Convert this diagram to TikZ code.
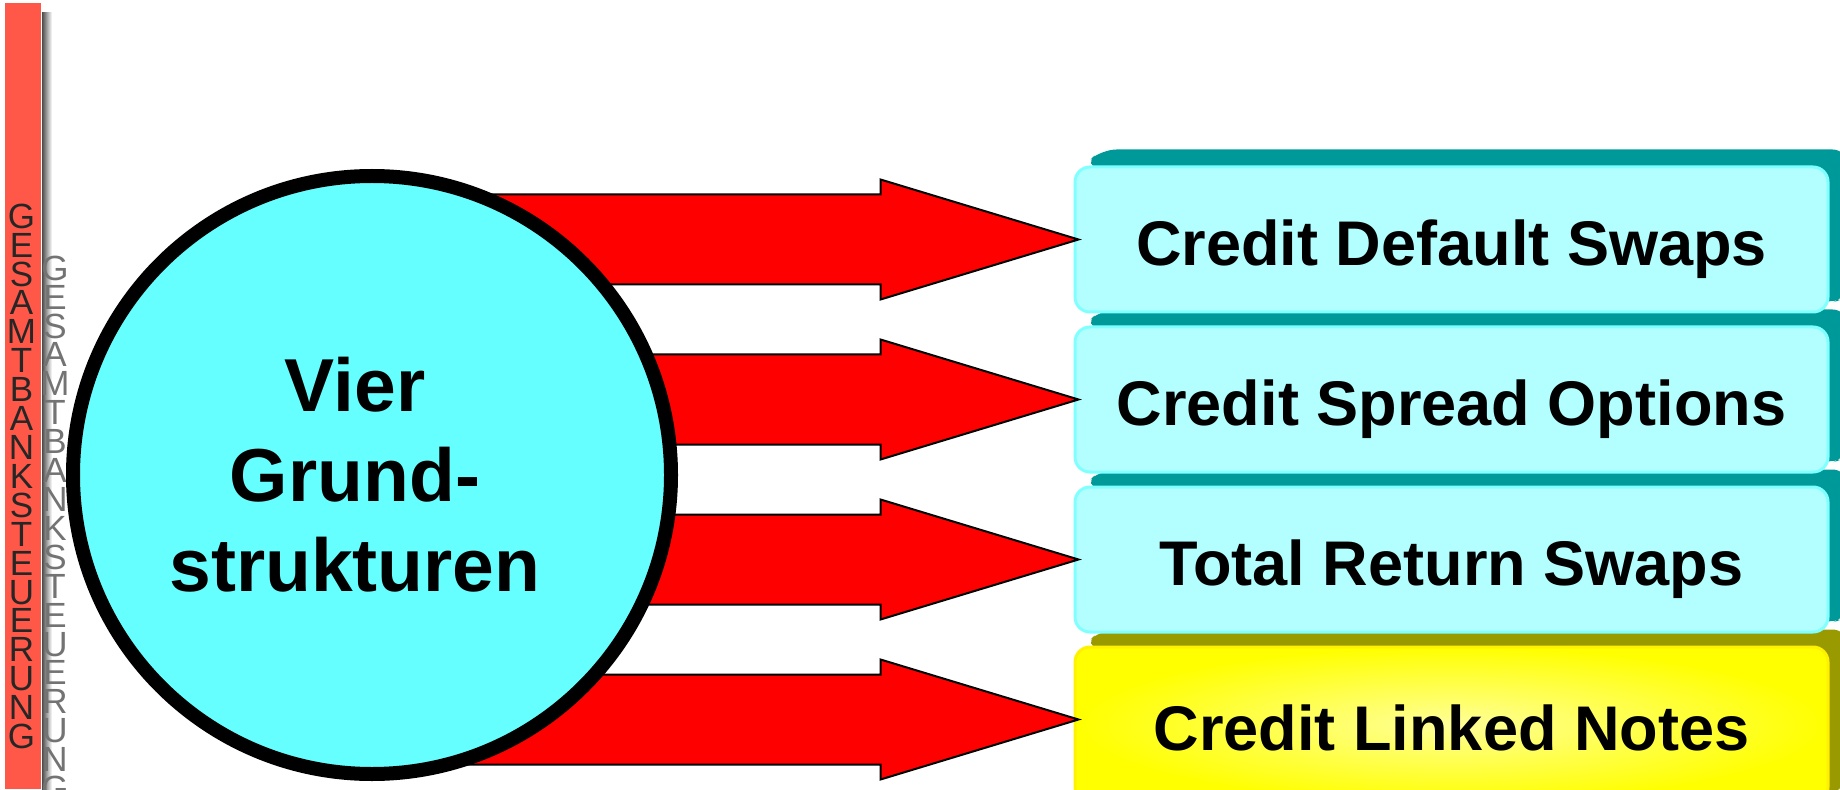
\documentclass[tikz,border=0pt]{standalone}
\usepackage{fontspec}
\setmainfont{Liberation Sans}
\usetikzlibrary{positioning, backgrounds}

\definecolor{hubcyan}{RGB}{102,255,255}
\definecolor{facecyan}{RGB}{179,255,255}
\definecolor{edgecyan}{RGB}{128,255,255}
\definecolor{sideteal}{RGB}{0,153,153}
\definecolor{sideolive}{RGB}{153,153,0}
\definecolor{barred}{RGB}{255,88,72}

\begin{document}
\begin{tikzpicture}[
product/.style={rectangle, rounded corners=0.3cm, minimum width=15.06cm, minimum height=2.9cm,
  line width=0.06cm, draw=edgecyan, fill=facecyan,
  font=\bfseries\fontsize{35.9}{40}\selectfont, text height=30pt, text depth=0pt},
core/.style={circle, minimum size=11.96cm, inner sep=0pt, line width=0.28cm, draw=black, fill=hubcyan},
pointer/.style={fill=red, draw=black, line width=0.04cm, line join=miter},
barletters/.style={anchor=north, inner sep=0pt, align=center, font=\fontsize{19.9}{16.45}\selectfont}
]
\useasboundingbox (0,0) rectangle (36.8,15.78);

% side bar
\fill[barred] (0.1,0) rectangle (0.82,15.72);
\shade[left color=black!70, right color=white] (0.84,0) rectangle (1.04,15.52);
\node[barletters, text=black!55] (ghost) at (1.1,10.67)
  {G\\E\\S\\A\\M\\T\\B\\A\\N\\K\\S\\T\\E\\U\\E\\R\\U\\N\\G};
\node[barletters, text=black!85] (bar) at (0.43,11.71)
  {G\\E\\S\\A\\M\\T\\B\\A\\N\\K\\S\\T\\E\\U\\E\\R\\U\\N\\G};

\node[product] (cds) at (29.03,10.99) {Credit Default Swaps};
\node[product, below=0.24cm of cds] (cso) {Credit Spread Options};
\node[product, below=0.24cm of cso] (trs) {Total Return Swaps};
\node[product, below=0.24cm of trs, minimum height=3.1cm, draw=yellow,
  inner color=yellow!40, outer color=yellow] (cln) {Credit Linked Notes};

\begin{scope}[on background layer]
\foreach \b/\c in {cds/sideteal, cso/sideteal, trs/sideteal, cln/sideolive} {
  \fill[\c, rounded corners=0.3cm] ([xshift=0.2cm]\b.north west) -- ++(0.36,0.32)
    -- ([shift={(0.36,0.32)}]\b.north east) -- ([shift={(0.36,0.32)}]\b.south east)
    -- ([yshift=0.2cm]\b.south east) -- cycle;
}
\end{scope}

\coordinate (c) at (7.44,6.28);
\foreach \b/\d in {cds/0, cso/0, trs/0, cln/0.1} {
  \draw[pointer] ([xshift=0.1cm, yshift=\d cm]\b.west) -- ++(-3.96,1.2) -- ++(0,-0.3) -- ++(-10.18,0)
    -- ++(0,-1.8) -- ++(10.18,0) -- ++(0,-0.3) -- cycle;
}

\node[core, label={[align=center, xshift=-0.34cm, font=\bfseries\fontsize{42.7}{51.2}\selectfont]center:Vier\\Grund-\\strukturen}] (hub) at (c) {};

\end{tikzpicture}
\end{document}
